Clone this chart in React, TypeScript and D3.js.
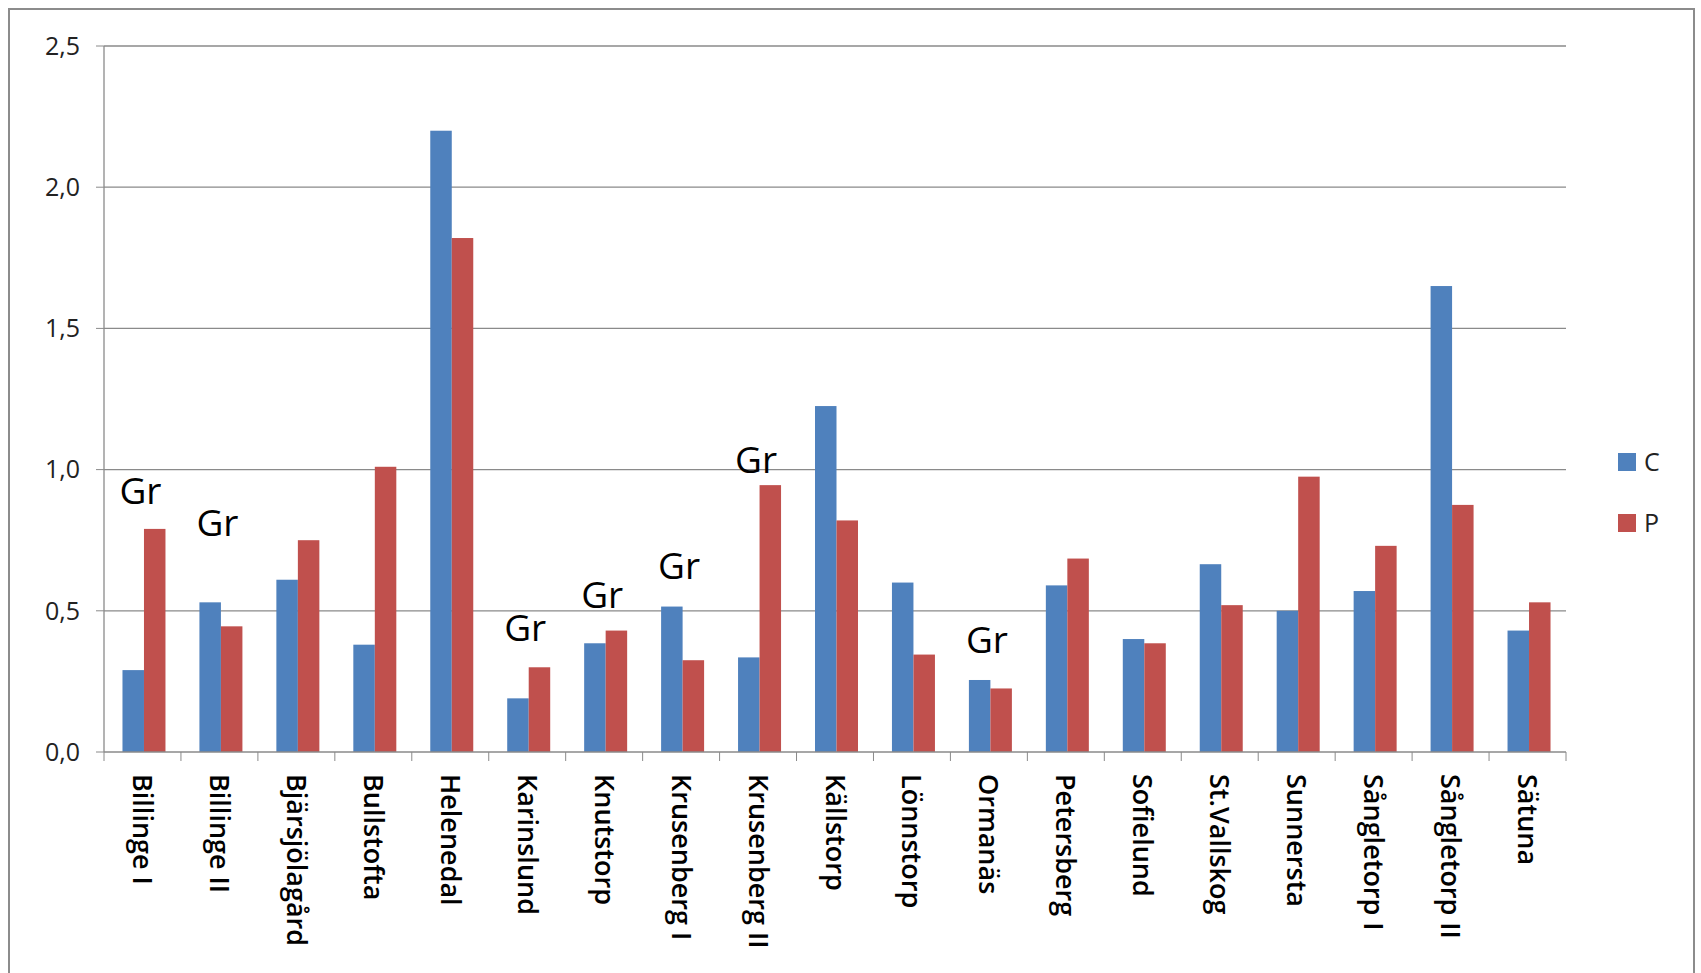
import { useEffect, useRef } from "react";
import * as d3 from "d3";

const categories = [
  "Billinge I", "Billinge II", "Bjärsjölagård", "Bullstofta", "Helenedal",
  "Karinslund", "Knutstorp", "Krusenberg I", "Krusenberg II", "Källstorp",
  "Lönnstorp", "Ormanäs", "Petersberg", "Sofielund", "St.Vallskog",
  "Sunnersta", "Sångletorp I", "Sångletorp II", "Sätuna",
];
const valuesC = [0.29, 0.53, 0.61, 0.38, 2.2, 0.19, 0.385, 0.515, 0.335, 1.225, 0.6, 0.255, 0.59, 0.4, 0.665, 0.5, 0.57, 1.65, 0.43];
const valuesP = [0.79, 0.445, 0.75, 1.01, 1.82, 0.3, 0.43, 0.325, 0.945, 0.82, 0.345, 0.225, 0.685, 0.385, 0.52, 0.975, 0.73, 0.875, 0.53];
// "Gr" annotations: category and the value level of the label centre
const grCats = ["Billinge I", "Billinge II", "Karinslund", "Knutstorp", "Krusenberg I", "Krusenberg II", "Ormanäs"];
const grLevels = [0.925, 0.81, 0.44, 0.555, 0.66, 1.035, 0.395];
const yTicks = [0, 0.5, 1, 1.5, 2, 2.5];
const series = ["C", "P"];
const colors = ["#4F81BD", "#C0504D"];

const W = 1701;
const H = 973;
const FONT = "'Open Sans', 'Liberation Sans', sans-serif";

const App = () => {
  const ref = useRef<SVGSVGElement>(null);

  useEffect(() => {
    const svg = d3.select(ref.current);
    svg.selectAll("*").remove();

    const left = 104, right = 1566, top = 46, bottom = 752;
    const x = d3.scaleBand().domain(categories).range([left, right]);
    const inner = d3.scaleBand().domain(series).range([3, x.bandwidth()]).paddingOuter(0.72);
    const y = d3.scaleLinear().domain([0, 2.5]).range([bottom, top]);

    // frame
    svg.append("rect").attr("x", 9).attr("y", 9).attr("width", W - 16).attr("height", H).attr("fill", "#fff").attr("stroke", "#8c8c8c").attr("stroke-width", 2);

    // grid
    svg.append("g").selectAll("line").data(yTicks.slice(1)).join("line")
      .attr("x1", left).attr("x2", right).attr("y1", (d) => y(d)).attr("y2", (d) => y(d))
      .attr("stroke", "#8a8a8a").attr("stroke-width", 1.3);

    const fmt = (d: number) => d3.format(".1f")(d).replace(".", ",");
    svg.append("g").selectAll("text").data(yTicks).join("text")
      .attr("x", left - 24).attr("y", (d) => y(d)).attr("dy", "0.35em").attr("text-anchor", "end")
      .attr("font-family", FONT).attr("font-size", 25).attr("fill", "#222").text(fmt);
    svg.append("g").selectAll("line").data(yTicks).join("line")
      .attr("x1", left - 8).attr("x2", left).attr("y1", (d) => y(d)).attr("y2", (d) => y(d)).attr("stroke", "#8a8a8a");

    // bars
    const g = svg.append("g");
    [valuesC, valuesP].forEach((vals, si) => {
      g.append("g").selectAll("rect").data(vals).join("rect")
        .attr("x", (_, i) => (x(categories[i]) ?? 0) + (inner(series[si]) ?? 0))
        .attr("width", inner.bandwidth())
        .attr("y", (d) => y(d)).attr("height", (d) => bottom - y(d))
        .attr("fill", colors[si]);
    });

    // axes lines
    svg.append("line").attr("x1", left).attr("x2", left).attr("y1", top).attr("y2", bottom).attr("stroke", "#8a8a8a").attr("stroke-width", 1.3);
    svg.append("line").attr("x1", left).attr("x2", right).attr("y1", bottom).attr("y2", bottom).attr("stroke", "#8a8a8a").attr("stroke-width", 1.3);
    svg.append("g").selectAll("line").data(categories.concat(["end"])).join("line")
      .attr("x1", (d) => (d === "end" ? right : x(d) ?? 0)).attr("x2", (d) => (d === "end" ? right : x(d) ?? 0))
      .attr("y1", bottom).attr("y2", bottom + 9).attr("stroke", "#8a8a8a");

    // category labels
    svg.append("g").selectAll("text").data(categories).join("text")
      .attr("transform", (d) => `translate(${(x(d) ?? 0) + x.bandwidth() / 2},${bottom + 22}) rotate(90)`)
      .attr("dy", "0.35em").attr("font-family", FONT).attr("font-size", 27).attr("font-weight", 600)
      .attr("fill", "#000").text((d) => d);

    // Gr annotations
    svg.append("g").selectAll("text").data(grCats).join("text")
      .attr("x", (d) => (x(d) ?? 0) + x.bandwidth() / 2 - 2).attr("y", (_, i) => y(grLevels[i]))
      .attr("dy", "0.35em").attr("text-anchor", "middle")
      .attr("font-family", FONT).attr("font-size", 37).attr("fill", "#000").text("Gr");

    // legend
    const lg = svg.append("g").attr("transform", "translate(1618,0)");
    series.forEach((s, i) => {
      const cy = 462 + i * 61;
      lg.append("rect").attr("x", 0).attr("y", cy - 9).attr("width", 18).attr("height", 18).attr("fill", colors[i]);
      lg.append("text").attr("x", 26).attr("y", cy).attr("dy", "0.35em").attr("font-family", FONT).attr("font-size", 25).attr("fill", "#222").text(s);
    });
  }, []);

  return <svg ref={ref} width={W} height={H} style={{ position: "absolute", left: 0, top: 0 }} />;
};

export default App;
